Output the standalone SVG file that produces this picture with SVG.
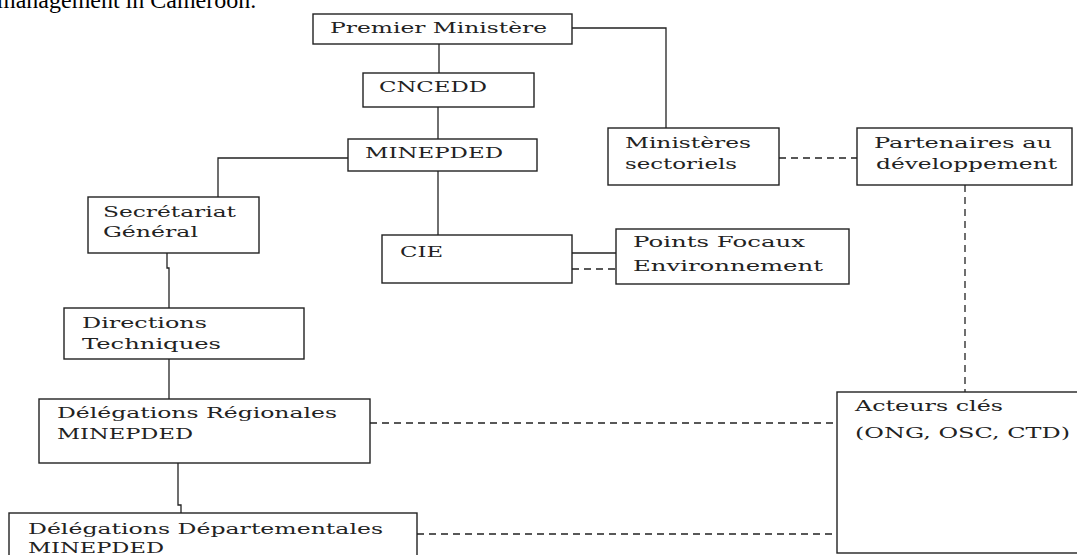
<svg xmlns="http://www.w3.org/2000/svg" width="1077" height="555" viewBox="0 0 1077 555">
<style>
.box{fill:#fff;stroke:#222;stroke-width:1.4}
.t{font-family:"DejaVu Serif","Liberation Serif",serif;font-size:15px;fill:#222}
.ln{fill:none;stroke:#222;stroke-width:1.3}
.dl{fill:none;stroke:#222;stroke-width:1.3;stroke-dasharray:7 5}
.title{font-family:"Liberation Serif","Times New Roman",serif;font-size:24px;fill:#000}
</style>
<rect width="1077" height="555" fill="#fff"/>
<text class="title" x="-3" y="8">management in Cameroon.</text>
<g id="connectors">
<path class="ln" d="M572 28 H666 V128"/>
<path class="ln" d="M439 44 V73"/>
<path class="ln" d="M438 107 V139"/>
<path class="ln" d="M348 158 H218 V197"/>
<path class="ln" d="M438 171 V235"/>
<path class="ln" d="M572 253 H616"/>
<path class="dl" d="M572 269 H616"/>
<path class="dl" d="M779 158 H857"/>
<path class="dl" d="M965 185 V392"/>
<path class="ln" d="M167 253 V268 H169 V308"/>
<path class="ln" d="M169 359 V399"/>
<path class="ln" d="M178 463 V505 H181 V513"/>
<path class="dl" d="M370 423 H837"/>
<path class="dl" d="M417 534 H837"/>
</g>
<g id="premier"><rect class="box" x="313" y="14" width="259" height="30"/><text class="t" x="330" y="33" textLength="217" lengthAdjust="spacingAndGlyphs">Premier Ministère</text></g>
<g id="cncedd"><rect class="box" x="363" y="73" width="171" height="34"/><text class="t" x="379" y="92" textLength="108" lengthAdjust="spacingAndGlyphs">CNCEDD</text></g>
<g id="minepded"><rect class="box" x="348" y="139" width="189" height="32"/><text class="t" x="365" y="158" textLength="138" lengthAdjust="spacingAndGlyphs">MINEPDED</text></g>
<g id="ministeres"><rect class="box" x="608" y="128" width="171" height="57"/><text class="t" x="625" y="148" textLength="126" lengthAdjust="spacingAndGlyphs">Ministères</text><text class="t" x="625" y="169" textLength="112" lengthAdjust="spacingAndGlyphs">sectoriels</text></g>
<g id="partenaires"><rect class="box" x="857" y="128" width="215" height="57"/><text class="t" x="874" y="148" textLength="178" lengthAdjust="spacingAndGlyphs">Partenaires au</text><text class="t" x="876" y="169" textLength="181" lengthAdjust="spacingAndGlyphs">développement</text></g>
<g id="secretariat"><rect class="box" x="88" y="197" width="171" height="56"/><text class="t" x="103" y="217" textLength="133" lengthAdjust="spacingAndGlyphs">Secrétariat</text><text class="t" x="103" y="237" textLength="95" lengthAdjust="spacingAndGlyphs">Général</text></g>
<g id="cie"><rect class="box" x="382" y="235" width="190" height="48"/><text class="t" x="400" y="257" textLength="43" lengthAdjust="spacingAndGlyphs">CIE</text></g>
<g id="points-focaux"><rect class="box" x="616" y="229" width="233" height="55"/><text class="t" x="633" y="247" textLength="172" lengthAdjust="spacingAndGlyphs">Points Focaux</text><text class="t" x="633" y="271" textLength="190" lengthAdjust="spacingAndGlyphs">Environnement</text></g>
<g id="directions"><rect class="box" x="64" y="308" width="240" height="51"/><text class="t" x="82" y="328" textLength="125" lengthAdjust="spacingAndGlyphs">Directions</text><text class="t" x="82" y="349" textLength="139" lengthAdjust="spacingAndGlyphs">Techniques</text></g>
<g id="delegations-regionales"><rect class="box" x="39" y="399" width="331" height="64"/><text class="t" x="57" y="418" textLength="280" lengthAdjust="spacingAndGlyphs">Délégations Régionales</text><text class="t" x="57" y="439" textLength="136" lengthAdjust="spacingAndGlyphs">MINEPDED</text></g>
<g id="delegations-departementales"><rect class="box" x="9" y="513" width="408" height="60"/><text class="t" x="28" y="534" textLength="355" lengthAdjust="spacingAndGlyphs">Délégations Départementales</text><text class="t" x="28" y="553" textLength="136" lengthAdjust="spacingAndGlyphs">MINEPDED</text></g>
<g id="acteurs"><rect class="box" x="837" y="392" width="245" height="161"/><text class="t" x="855" y="411" textLength="148" lengthAdjust="spacingAndGlyphs">Acteurs clés</text><text class="t" x="855" y="438" textLength="215" lengthAdjust="spacingAndGlyphs">(ONG, OSC, CTD)</text></g>
</svg>
